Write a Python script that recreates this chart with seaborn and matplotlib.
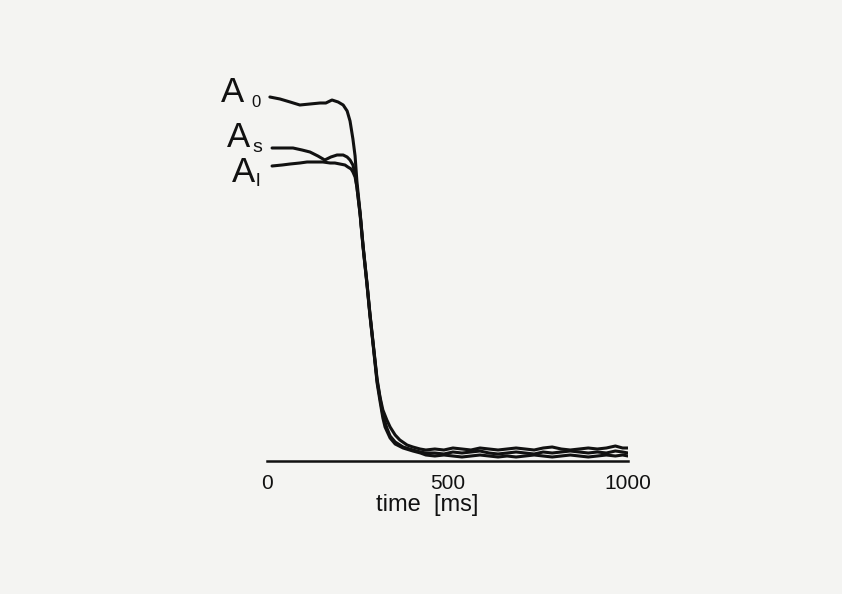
import matplotlib
matplotlib.use("Agg")
import matplotlib.pyplot as plt
import seaborn as sns
import pandas as pd

# time [ms] and amplitude (arbitrary units)
base_t = [440, 465, 490, 515, 540, 565, 590, 615, 640, 665, 690, 715, 740, 765, 790, 815,
          840, 865, 890, 915, 940, 965, 985, 1000]

t_A0 = [8, 36, 64, 91, 119, 147, 163, 180, 197, 211, 222, 230, 238, 244, 249, 258, 266, 277,
        285, 294, 305, 313, 321, 332, 341, 355, 368, 388, 404, 424] + base_t
v_A0 = [364, 362, 359, 356, 357, 358, 358, 361, 359, 356, 350, 340, 322, 305, 280, 248, 216, 178,
        148, 118, 82, 64, 51, 41, 34, 26, 21, 16, 14, 12] + \
       [11, 12, 11, 13, 12, 11, 13, 12, 11, 12, 13, 12, 11, 13, 14, 12,
        11, 12, 13, 12, 13, 15, 13, 13]

t_As = [14, 44, 72, 97, 119, 141, 160, 177, 194, 211, 222, 230, 238, 244, 249, 258, 266, 277,
        285, 294, 305, 313, 321, 332, 341, 355, 377, 404, 425] + base_t
v_As = [313, 313, 313, 311, 309, 305, 301, 304, 306, 306, 304, 301, 296, 287, 274, 247, 215, 177,
        147, 117, 80, 63, 46, 33, 25, 19, 14, 11, 9] + \
       [8, 8, 7, 9, 8, 9, 10, 8, 7, 8, 9, 8, 7, 9, 8, 9,
        10, 9, 8, 9, 8, 10, 9, 8]

t_Al = [14, 42, 64, 91, 111, 133, 155, 175, 188, 202, 216, 224, 233, 238, 244, 249, 258, 266,
        277, 285, 294, 305, 313, 321, 327, 341, 355, 377, 404, 425] + base_t
v_Al = [295, 296, 297, 298, 299, 299, 299, 298, 298, 297, 296, 294, 292, 289, 284, 274, 246, 214,
        176, 146, 116, 78, 60, 43, 34, 23, 17, 13, 10, 8] + \
       [6, 5, 6, 5, 4, 5, 6, 5, 4, 5, 4, 5, 6, 5, 4, 5,
        6, 5, 4, 5, 6, 5, 6, 5]

x_ticks = [0, 500, 1000]
x_label = "time  [ms]"

df = pd.concat([
    pd.DataFrame({"t": t_A0, "v": v_A0, "trace": "A0"}),
    pd.DataFrame({"t": t_As, "v": v_As, "trace": "As"}),
    pd.DataFrame({"t": t_Al, "v": v_Al, "trace": "Al"}),
])

sns.set_style("white")
plt.rcParams["font.family"] = ["Liberation Sans", "DejaVu Sans"]

bg = "#f4f4f2"
fig = plt.figure(figsize=(8.42, 5.94), dpi=100, facecolor=bg)
ax = fig.add_axes([267 / 842, (594 - 461) / 594, (628 - 267) / 842, (461 - 90) / 594])
ax.set_facecolor(bg)

sns.lineplot(data=df, x="t", y="v", hue="trace", palette=["#111111"] * 3,
             linewidth=2.2, legend=False, ax=ax, sort=False, estimator=None)

ax.set_xlim(0, 1000)
ax.set_ylim(0, 371)
for s in ["top", "right", "left"]:
    ax.spines[s].set_visible(False)
ax.spines["bottom"].set_linewidth(1.8)
ax.spines["bottom"].set_color("#111111")
ax.set_yticks([])
ax.set_xticks(x_ticks)
ax.set_xticklabels([str(v) for v in x_ticks])
ax.tick_params(axis="x", direction="inout", length=9, width=1.2, labelsize=15, pad=5,
               colors="#111111")
ax.set_xlabel(x_label, fontsize=17, color="#111111")
ax.xaxis.set_label_coords((427 - 267) / 361, -33 / 371)
ax.set_ylabel("")

# trace labels (figure pixel coordinates -> fraction)
def ftxt(px, py, s, size):
    fig.text(px / 842, 1 - py / 594, s, fontsize=size, ha="left", va="baseline", color="#111111")

ftxt(221, 102, "A", 25)
ftxt(251, 107, "0", 12)
ftxt(227, 147, "A", 25)
ftxt(252, 152, "s", 14)
ftxt(232, 182, "A", 25)
ftxt(256, 186, "l", 14)

fig.savefig("out.png", dpi=100, facecolor=bg)
